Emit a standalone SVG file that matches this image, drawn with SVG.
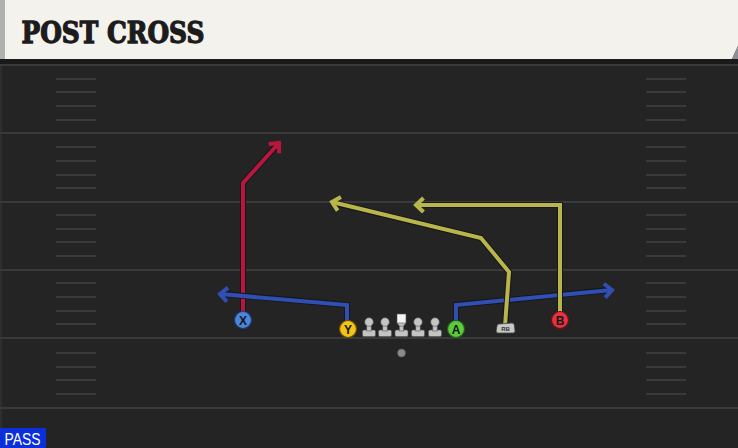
<svg xmlns="http://www.w3.org/2000/svg" width="738" height="448" viewBox="0 0 738 448">
  <style>
    .yard { stroke: #3a3a3a; stroke-width: 2; }
    .hash { stroke: #3a3a3a; stroke-width: 2; }
    .route { fill: none; stroke-width: 4; stroke-linejoin: miter; stroke-linecap: butt; }
    .under { fill: none; stroke: #16161c; stroke-width: 6; stroke-linejoin: miter; }
    .red { stroke: #b8163c; }
    .blue { stroke: #2f4fb3; }
    .yellow { stroke: #b8b54a; }
    .plabel { font-family: "Liberation Sans", Arial, sans-serif; font-weight: bold; font-size: 12px; fill: #161616; text-anchor: middle; dominant-baseline: central; }
    .lineman { fill: #c4c4c4; stroke: #555; stroke-width: 0.6; }
  </style>
  <defs>
    <marker id="ah-red" markerUnits="userSpaceOnUse" markerWidth="20" markerHeight="20" refX="10" refY="10" orient="auto" overflow="visible">
      <path d="M2.5,3 L10,10 L2.5,17" fill="none" stroke="#b8163c" stroke-width="4"/>
    </marker>
    <marker id="ah-blue" markerUnits="userSpaceOnUse" markerWidth="20" markerHeight="20" refX="10" refY="10" orient="auto" overflow="visible">
      <path d="M2.5,3 L10,10 L2.5,17" fill="none" stroke="#2f4fb3" stroke-width="4"/>
    </marker>
    <marker id="ah-yellow" markerUnits="userSpaceOnUse" markerWidth="20" markerHeight="20" refX="10" refY="10" orient="auto" overflow="visible">
      <path d="M2.5,3 L10,10 L2.5,17" fill="none" stroke="#b8b54a" stroke-width="4"/>
    </marker>
    <g id="lineman">
      <rect x="-6.5" y="330" width="13" height="6.5" rx="1.5" class="lineman"/>
      <rect x="-2.2" y="322" width="4.4" height="9" class="lineman"/>
      <circle cx="0" cy="322" r="4.3" class="lineman"/>
    </g>
  </defs>

  <!-- field -->
  <rect x="0" y="0" width="738" height="448" fill="#242424"/>
  <rect x="0" y="59" width="738" height="5" fill="#1a1a1a"/>
  <rect x="0" y="64" width="2" height="384" fill="#2e2e2e"/>

  <g id="yardlines">
    <line class="yard" x1="0" y1="65" x2="738" y2="65"/>
    <line class="yard" x1="0" y1="133" x2="738" y2="133"/>
    <line class="yard" x1="0" y1="202" x2="738" y2="202"/>
    <line class="yard" x1="0" y1="270" x2="738" y2="270"/>
    <line class="yard" x1="0" y1="338" x2="738" y2="338"/>
    <line class="yard" x1="0" y1="408" x2="738" y2="408"/>
  </g>

  <g id="hashes">
    <line class="hash" x1="56" y1="79" x2="96" y2="79"/><line class="hash" x1="646" y1="79" x2="686" y2="79"/>
    <line class="hash" x1="56" y1="92" x2="96" y2="92"/><line class="hash" x1="646" y1="92" x2="686" y2="92"/>
    <line class="hash" x1="56" y1="106" x2="96" y2="106"/><line class="hash" x1="646" y1="106" x2="686" y2="106"/>
    <line class="hash" x1="56" y1="120" x2="96" y2="120"/><line class="hash" x1="646" y1="120" x2="686" y2="120"/>
    <line class="hash" x1="56" y1="147" x2="96" y2="147"/><line class="hash" x1="646" y1="147" x2="686" y2="147"/>
    <line class="hash" x1="56" y1="161" x2="96" y2="161"/><line class="hash" x1="646" y1="161" x2="686" y2="161"/>
    <line class="hash" x1="56" y1="175" x2="96" y2="175"/><line class="hash" x1="646" y1="175" x2="686" y2="175"/>
    <line class="hash" x1="56" y1="188" x2="96" y2="188"/><line class="hash" x1="646" y1="188" x2="686" y2="188"/>
    <line class="hash" x1="56" y1="215" x2="96" y2="215"/><line class="hash" x1="646" y1="215" x2="686" y2="215"/>
    <line class="hash" x1="56" y1="229" x2="96" y2="229"/><line class="hash" x1="646" y1="229" x2="686" y2="229"/>
    <line class="hash" x1="56" y1="242" x2="96" y2="242"/><line class="hash" x1="646" y1="242" x2="686" y2="242"/>
    <line class="hash" x1="56" y1="256" x2="96" y2="256"/><line class="hash" x1="646" y1="256" x2="686" y2="256"/>
    <line class="hash" x1="56" y1="283" x2="96" y2="283"/><line class="hash" x1="646" y1="283" x2="686" y2="283"/>
    <line class="hash" x1="56" y1="297" x2="96" y2="297"/><line class="hash" x1="646" y1="297" x2="686" y2="297"/>
    <line class="hash" x1="56" y1="311" x2="96" y2="311"/><line class="hash" x1="646" y1="311" x2="686" y2="311"/>
    <line class="hash" x1="56" y1="324" x2="96" y2="324"/><line class="hash" x1="646" y1="324" x2="686" y2="324"/>
    <line class="hash" x1="56" y1="353" x2="96" y2="353"/><line class="hash" x1="646" y1="353" x2="686" y2="353"/>
    <line class="hash" x1="56" y1="367" x2="96" y2="367"/><line class="hash" x1="646" y1="367" x2="686" y2="367"/>
    <line class="hash" x1="56" y1="380" x2="96" y2="380"/><line class="hash" x1="646" y1="380" x2="686" y2="380"/>
    <line class="hash" x1="56" y1="394" x2="96" y2="394"/><line class="hash" x1="646" y1="394" x2="686" y2="394"/>
  </g>

  <!-- header -->
  <g id="header">
    <polygon points="0,0 738,0 738,46 732,59 0,59" fill="#f4f2ec"/>
    <polygon points="738,46 738,59 732,59" fill="#8c9096"/>
    <rect x="0" y="0" width="5" height="59" fill="#aeb1ae"/>
    <text x="21.5" y="42.5" font-family="'DejaVu Serif', 'Liberation Serif', serif" font-weight="bold" font-size="29" fill="#1c1c1c" stroke="#1c1c1c" stroke-width="1.3" stroke-linejoin="miter" textLength="183" lengthAdjust="spacingAndGlyphs">POST CROSS</text>
  </g>

  <!-- connectors -->
  <g id="routes">
    <path class="under" d="M243,320 L243,183 L277,145"/>
    <path class="route red" d="M243,320 L243,183 L279,143" marker-end="url(#ah-red)"/>
    <path class="under" d="M347,329 L347,305 L223,294"/>
    <path class="route blue" d="M347,329 L347,305 L220,294" marker-end="url(#ah-blue)"/>
    <path class="under" d="M456,329 L456,305 L609,290"/>
    <path class="route blue" d="M456,329 L456,305 L612,290" marker-end="url(#ah-blue)"/>
    <path class="under" d="M505,326 L509,272 L481,238 L335,203"/>
    <path class="route yellow" d="M505,326 L509,272 L481,238 L332,202" marker-end="url(#ah-yellow)"/>
    <path class="under" d="M560,320 L560,205 L419,205"/>
    <path class="route yellow" d="M560,320 L560,205 L416,205" marker-end="url(#ah-yellow)"/>
  </g>

  <!-- players -->
  <g id="player-X">
    <circle cx="243" cy="320" r="8.5" fill="#4a86dc" stroke="#1d3d70" stroke-width="1.2"/>
    <text class="plabel" x="243" y="320.5">X</text>
  </g>
  <g id="player-Y">
    <circle cx="348" cy="329" r="8.5" fill="#f2c418" stroke="#6b5200" stroke-width="1.2"/>
    <text class="plabel" x="348" y="329.5">Y</text>
  </g>
  <g id="lineman-LT"><use href="#lineman" x="369"/></g>
  <g id="lineman-LG"><use href="#lineman" x="385"/></g>
  <g id="lineman-C">
    <use href="#lineman" x="401.5"/>
    <rect x="397" y="314" width="9" height="9" fill="#f4f4f4" stroke="#555" stroke-width="0.6"/>
  </g>
  <g id="lineman-RG"><use href="#lineman" x="418"/></g>
  <g id="lineman-RT"><use href="#lineman" x="435"/></g>
  <g id="player-A">
    <circle cx="456" cy="329" r="8.5" fill="#5ccc3c" stroke="#24601a" stroke-width="1.2"/>
    <text class="plabel" x="456" y="329.5">A</text>
  </g>
  <g id="player-RB">
    <path d="M499,324 L512,323 Q514,323 514.3,325 L515,331 Q515.2,333 513,333 L498,333 Q496,333 496.2,331 L497,326 Q497.2,324 499,324 Z" fill="#c8c8c8" stroke="#444" stroke-width="0.8"/>
    <text x="505.5" y="330.8" font-family="'Liberation Sans', Arial, sans-serif" font-weight="bold" font-size="6" fill="#333" text-anchor="middle">RB</text>
  </g>
  <g id="player-B">
    <circle cx="560" cy="320" r="8.5" fill="#e5333f" stroke="#701018" stroke-width="1.2"/>
    <text class="plabel" x="560" y="320.5">B</text>
  </g>
  <g id="ball">
    <circle cx="401.5" cy="353" r="4" fill="#8a8a8a" stroke="#555" stroke-width="0.6"/>
  </g>

  <!-- play type label -->
  <g id="pass-label">
    <rect x="0" y="428" width="46" height="20" fill="#0b2fd8"/>
    <text x="4.5" y="445" font-family="'Liberation Sans', Arial, sans-serif" font-size="16" fill="#ffffff" textLength="36" lengthAdjust="spacingAndGlyphs">PASS</text>
  </g>
</svg>
